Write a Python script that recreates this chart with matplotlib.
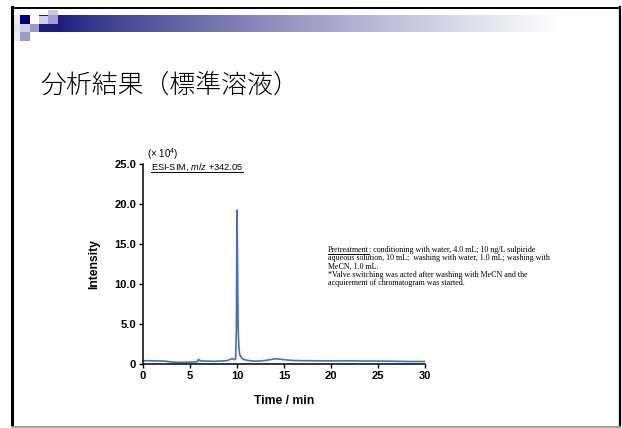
import numpy as np
import matplotlib.pyplot as plt
from matplotlib.patches import Rectangle
from matplotlib.lines import Line2D
from matplotlib.transforms import IdentityTransform

plt.rcParams['mathtext.fontset'] = 'custom'
plt.rcParams['mathtext.rm'] = 'Liberation Sans'
plt.rcParams['mathtext.it'] = 'Liberation Sans:italic'

# chromatogram (x 10^4 counts)
time = [0, 0.5, 1, 1.5, 2, 2.5, 3, 3.5, 4, 4.5, 5, 5.5, 5.8, 5.9, 6.0, 6.2,
        6.5, 7, 7.5, 8, 8.5, 9, 9.3, 9.5, 9.7, 9.85, 9.93, 10.0, 10.06,
        10.12, 10.2, 10.3, 10.45, 10.6, 10.8, 11, 11.5, 12, 12.5, 13, 13.5,
        14, 14.5, 15, 15.5, 16, 17, 18, 19, 20, 21, 22, 23, 24, 25, 26, 27,
        28, 29, 30]
intensity = [0.35, 0.38, 0.36, 0.35, 0.33, 0.3, 0.22, 0.18, 0.17, 0.18, 0.2,
             0.22, 0.25, 0.55, 0.42, 0.35, 0.33, 0.32, 0.3, 0.32, 0.35, 0.4,
             0.55, 0.65, 0.5, 0.6, 4.0, 19.2, 12.0, 4.5, 2.0, 1.1, 0.8, 0.6,
             0.5, 0.45, 0.35, 0.32, 0.35, 0.4, 0.5, 0.6, 0.58, 0.5, 0.45, 0.4,
             0.38, 0.37, 0.36, 0.35, 0.35, 0.36, 0.34, 0.33, 0.33, 0.32, 0.3,
             0.28, 0.27, 0.28]

xticks = [0, 5, 10, 15, 20, 25, 30]
yticks = [0, 5, 10, 15, 20, 25]
ytick_labels = ['0', '5.0', '10.0', '15.0', '20.0', '25.0']

title = '分析結果（標準溶液）'
note_lines = [
    ': conditioning with water, 4.0 mL; 10 ng/L sulpiride',
    'aqueous solution, 10 mL;  washing with water, 1.0 mL; washing with',
    'MeCN, 1.0 mL.',
    '*Valve switching was acted after washing with MeCN and the',
    'acquirement of chromatogram was started.',
]

W, H = 622, 428
fig = plt.figure(figsize=(W / 100, H / 100), dpi=100)

# slide decoration in pixel coordinates
bg = fig.add_axes([0, 0, 1, 1])
bg.set_xlim(0, W)
bg.set_ylim(H, 0)
bg.axis('off')

grad = np.linspace(0, 1, 256) ** 0.8
navy = np.array([28, 28, 124]) / 255
cols = navy[None, :] * (1 - grad[:, None]) + grad[:, None]
bg.imshow(cols[None, :, :], extent=[58, 560, 32, 15], aspect='auto', zorder=1)

squares = [
    (48, 10, 10, 5, '#c8c8e4'),
    (13, 15, 7, 9, '#ececf6'), (20, 15, 10, 9, '#00007c'),
    (39, 15, 9, 9, '#cfcfe8'), (48, 15, 10, 9, '#a0a0d0'),
    (13, 24, 7, 8, '#e4e4f2'), (20, 24, 10, 8, '#cfcfe8'),
    (30, 24, 9, 8, '#9c9ccc'), (39, 24, 19, 8, '#1c1c7c'),
    (13, 32, 7, 9, '#ececf6'), (20, 32, 10, 9, '#9c9ccc'),
]
for x, y, w, h, c in squares:
    bg.add_patch(Rectangle((x, y), w, h, color=c, lw=0, zorder=2))
bg.add_patch(Rectangle((39, 15), 9, 1.2, color='#1c1c7c', lw=0, zorder=3))

bg.plot([12, 12], [7, H], color='black', lw=2.2, zorder=4)
bg.plot([12, 620], [7.5, 7.5], color='black', lw=1.4, zorder=4)
bg.plot([620, 620], [7, H], color='black', lw=1.6, zorder=4)
bg.plot([12, 620], [427, 427], color='#a0a0a0', lw=1.4, zorder=4)

fig.text(40 / W, 1 - 85 / H, title, fontsize=18.6, va='center', ha='left',
         family=['Noto Sans CJK JP', 'DejaVu Sans'], fontweight='light')

# chromatogram axes
ax = fig.add_axes([143 / W, 1 - 363.7 / H, 282 / W, 200 / H])
ax.plot(time, intensity, color='#3d72c4', lw=1.2)
ax.set_xlim(0, 30)
ax.set_ylim(0, 25)
ax.set_xticks(xticks)
ax.set_yticks(yticks)
ax.set_yticklabels(ytick_labels)
for s in ['top', 'right']:
    ax.spines[s].set_visible(False)
for s in ['left', 'bottom']:
    ax.spines[s].set_linewidth(1.1)
ax.tick_params(direction='out', length=3, width=1, pad=2)
for lab in ax.get_xticklabels() + ax.get_yticklabels():
    lab.set_family('Liberation Sans')
    lab.set_fontweight('bold')
    lab.set_fontsize(8)
ax.set_xlabel('Time / min', family='Liberation Sans', fontweight='bold', fontsize=8.7)
ax.set_ylabel('Intensity', family='Liberation Sans', fontweight='bold', fontsize=8.7)
ax.xaxis.set_label_coords(0.5, -0.155)
ax.yaxis.set_label_coords(-0.152, 0.5)

fig.text(147 / W, 1 - 154 / H, r'($\times$ 10$^4$)', family='Liberation Sans',
         fontsize=7, va='center')
esi = fig.text(151 / W, 1 - 170 / H, r'ESI-SIM, $m/z$ +342.05',
               family='Liberation Sans', fontsize=6.7, va='baseline')

note_fs = 5.8
y0 = 252.3
pre = fig.text(328 / W, 1 - y0 / H, 'Pretreatment', family='Liberation Serif',
               fontsize=note_fs, va='baseline')
fig.canvas.draw()
r = fig.canvas.get_renderer()
pb = pre.get_window_extent(r)
fig.text(pb.x1 / W, 1 - y0 / H, note_lines[0], family='Liberation Serif',
         fontsize=note_fs, va='baseline')
for i, line in enumerate(note_lines[1:]):
    fig.text(328 / W, 1 - (y0 + 8.1 * (i + 1)) / H, line,
             family='Liberation Serif', fontsize=note_fs, va='baseline')

# underlines
for t, ypix in [(esi, 171.7), (pre, y0 + 1.7)]:
    b = t.get_window_extent(r)
    fig.add_artist(Line2D([b.x0, b.x1], [H - ypix, H - ypix], color='black',
                          lw=0.7, transform=IdentityTransform()))

fig.savefig('out.png', dpi=100)
